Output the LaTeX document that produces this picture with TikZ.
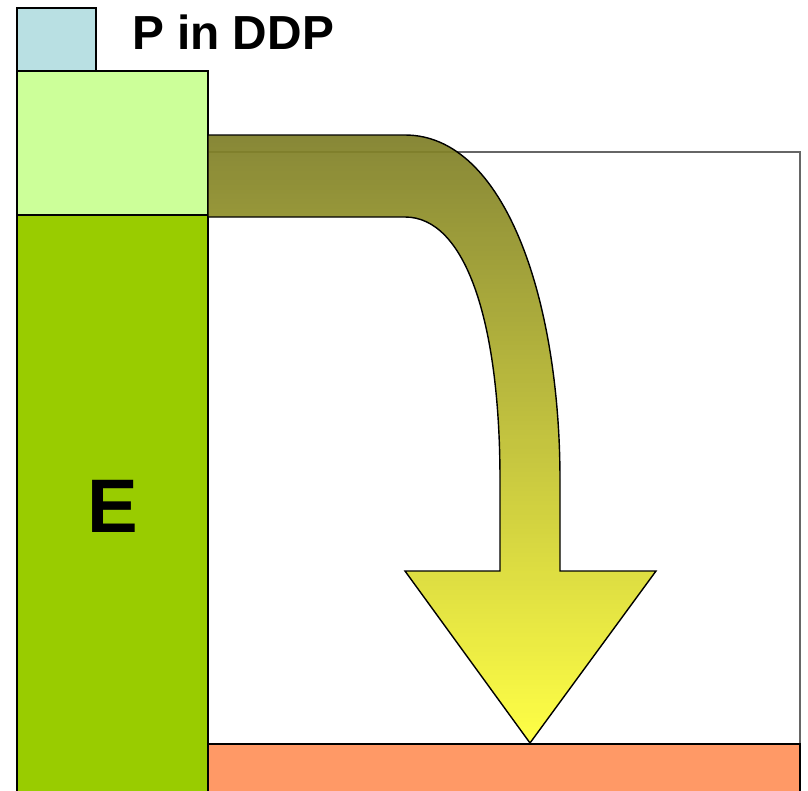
\documentclass[tikz,border=0pt]{standalone}
\usepackage{fontspec}
\setmainfont{Liberation Sans}
\usepackage{xcolor}
\usetikzlibrary{positioning}
\definecolor{pblue}{HTML}{B9E0E3}
\definecolor{plight}{HTML}{CCFF99}
\definecolor{egreen}{HTML}{99CC00}
\definecolor{sorange}{HTML}{FF9966}
\definecolor{flowtop}{HTML}{7E7E28}
\definecolor{flowbot}{HTML}{FFFF38}

\begin{document}
\begin{tikzpicture}[x=0.25mm, y=-0.25mm,
    box/.style={draw=black, line width=1pt},
    frame/.style={draw=black!60, line width=0.8pt},
    flow/.style={draw=black, line width=1pt, top color=flowtop, bottom color=flowbot, fill opacity=0.93},
    biglabel/.style={font=\bfseries\fontsize{34}{37}\selectfont},
    elabel/.style={font=\bfseries\fontsize{54}{58}\selectfont}]

    \useasboundingbox (0,0) rectangle (808,791);

    % Outer frame of the system
    \draw[frame] (17,152) rectangle (800,800);

    % Bottom sink
    \draw[box, fill=sorange] (208,744) rectangle (800,800);

    % Column: P in DDP on top of E
    \draw[box, fill=pblue] (17,8) rectangle (96,71);
    \draw[box, fill=plight] (17,71) rectangle (208,215);
    \draw[box, fill=egreen] (17,215) rectangle (208,800);

    % Labels
    \node[biglabel] (ddp) at (233,32) {P in DDP};
    \node[elabel] (e) at (113,506) {E};

    % Bent arrow from the light box down to the sink
    \draw[flow] (208,135) -- (405,135)
        .. controls (505,135) and (560,300) .. (560,480)
        -- (560,571) -- (656,571) -- (530,743) -- (405,571) -- (500,571)
        -- (500,480)
        .. controls (500,320) and (465,217) .. (405,217)
        -- (208,217) -- cycle;

\end{tikzpicture}
\end{document}
